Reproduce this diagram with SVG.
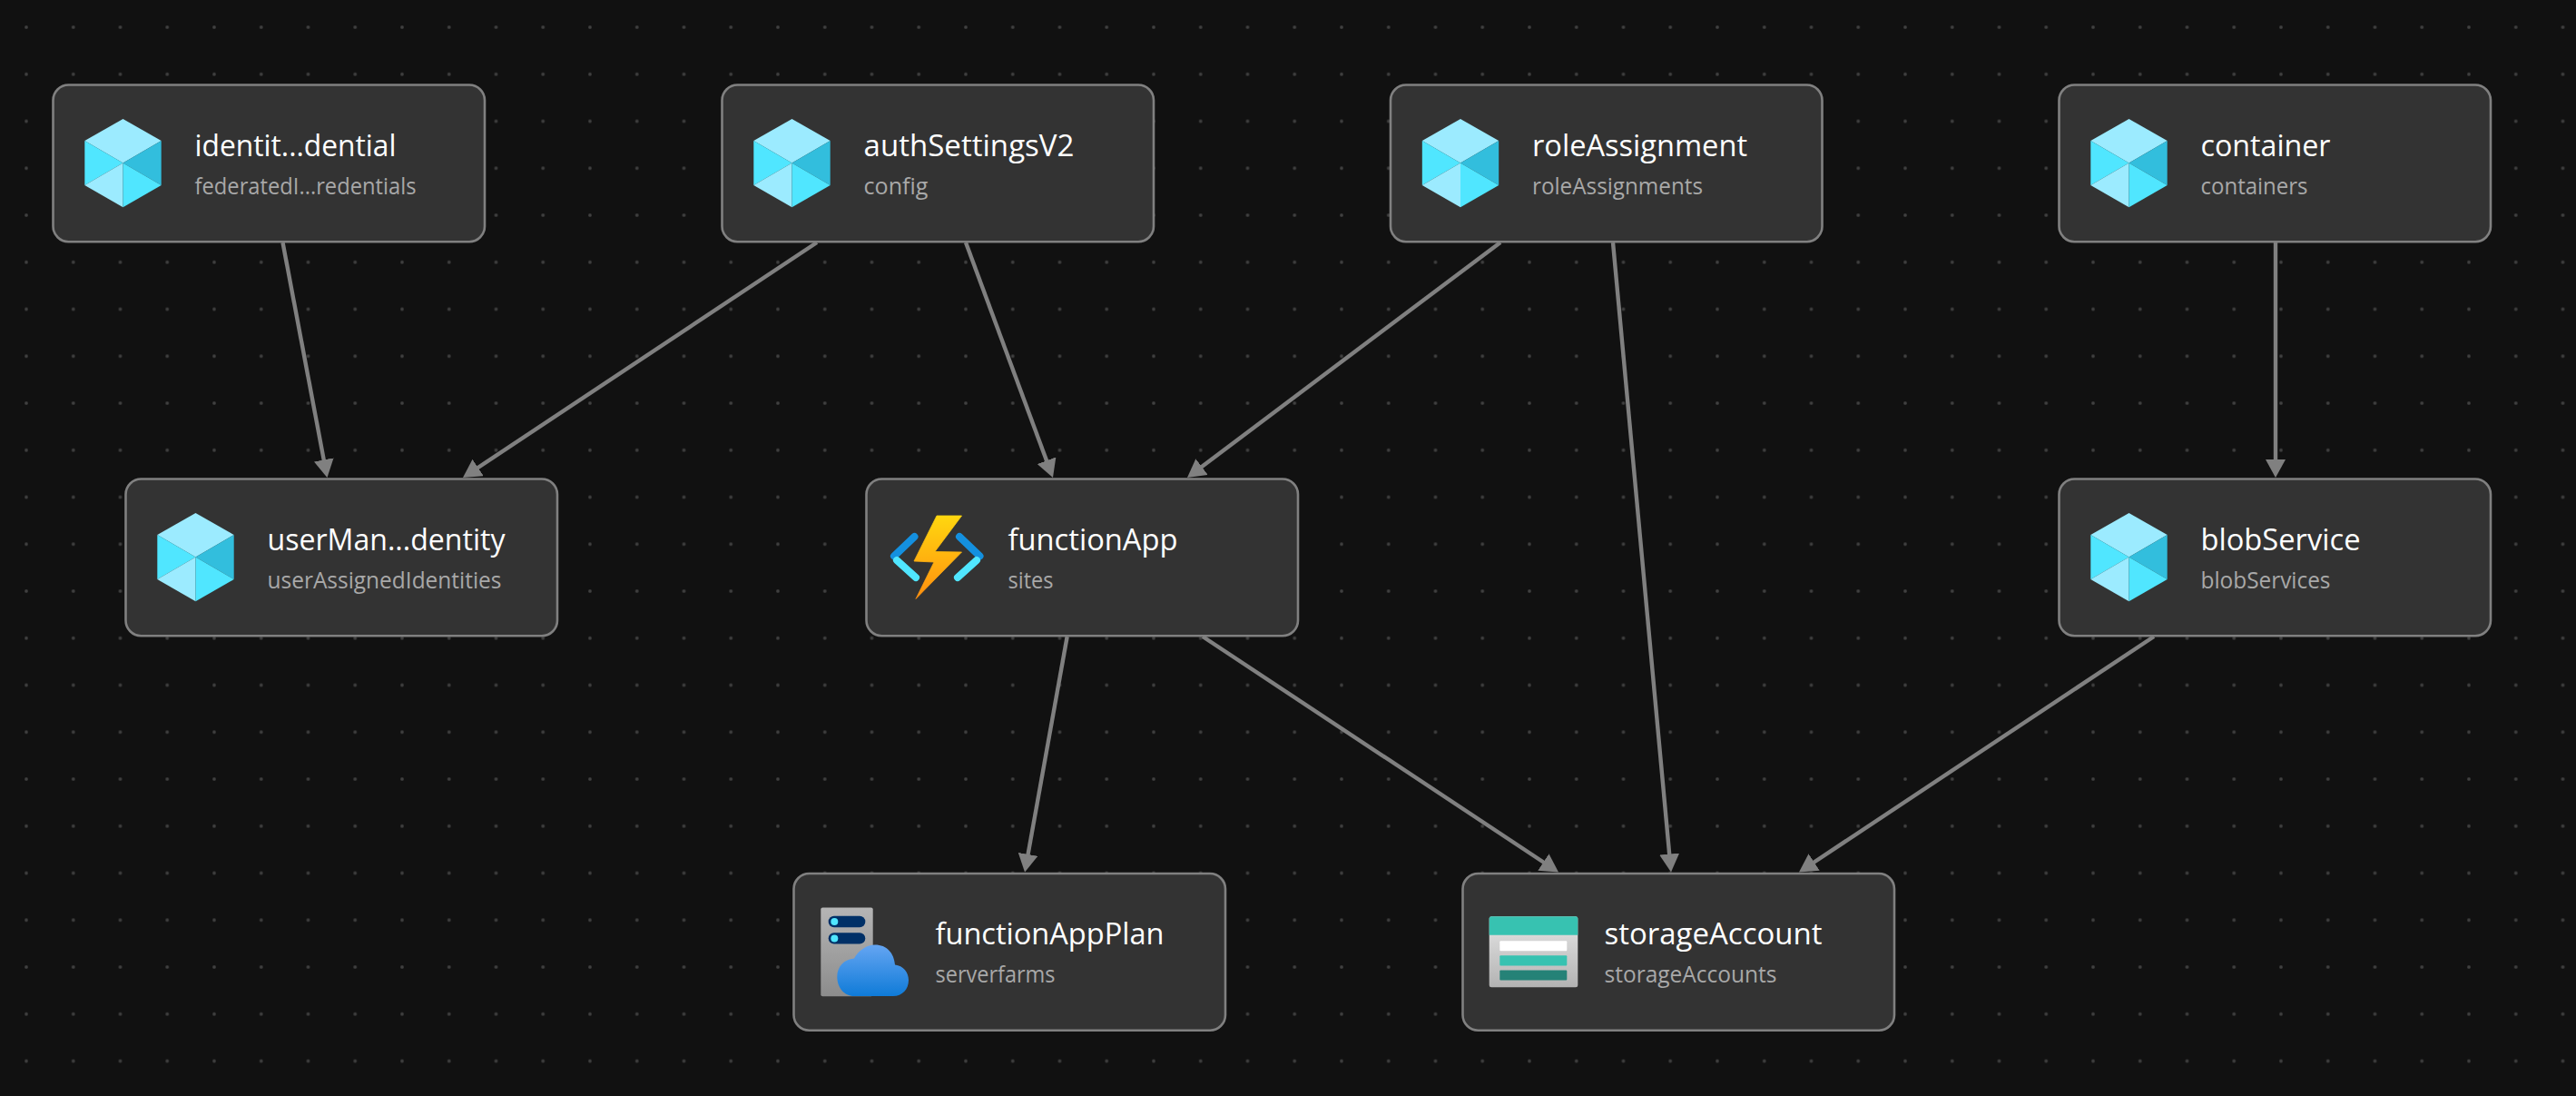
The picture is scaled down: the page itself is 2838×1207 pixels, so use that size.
<svg xmlns="http://www.w3.org/2000/svg" width="2838" height="1207" viewBox="0 0 2838 1207">
<style>
.card{fill:#333333;stroke:#808080;stroke-width:2.6}
.t{font-family:"Open Sans","Noto Sans","Liberation Sans",sans-serif;font-size:33px;fill:#ffffff}
.s{font-family:"Open Sans","Noto Sans","Liberation Sans",sans-serif;font-size:25px;fill:#a8a8a8}
.e{stroke:#808080;stroke-width:4.4;fill:none;marker-end:url(#arrow)}
</style>
<defs>
<pattern id="dots" patternUnits="userSpaceOnUse" x="29" y="30" width="51.75" height="51.75">
<rect x="-1.700" y="-1.700" width="3.400" height="3.400" rx="1.200" fill="#404040"/>
<rect x="50.050" y="-1.700" width="3.400" height="3.400" rx="1.200" fill="#404040"/>
<rect x="-1.700" y="50.050" width="3.400" height="3.400" rx="1.200" fill="#404040"/>
<rect x="50.050" y="50.050" width="3.400" height="3.400" rx="1.200" fill="#404040"/>
</pattern>
<marker id="arrow" markerUnits="userSpaceOnUse" viewBox="0 0 20 22" refX="10" refY="11" markerWidth="20" markerHeight="22" orient="auto">
<path d="M0 0L20 11L0 22Z" fill="#808080"/>
</marker>
<linearGradient id="bolt" x1="0" y1="0" x2="0" y2="1"><stop offset="0" stop-color="#FFD70F"/><stop offset="1" stop-color="#FF8F0F"/></linearGradient>
<linearGradient id="srv" x1="0" y1="0" x2="0" y2="1"><stop offset="0" stop-color="#B5B5B5"/><stop offset="1" stop-color="#8C8C8C"/></linearGradient>
<linearGradient id="cloud" x1="0" y1="0" x2="0" y2="1"><stop offset="0" stop-color="#65A5F2"/><stop offset="1" stop-color="#0F7BD8"/></linearGradient>
<linearGradient id="stor" x1="0" y1="0" x2="0" y2="1"><stop offset="0" stop-color="#E6E6E6"/><stop offset="1" stop-color="#B3B3B3"/></linearGradient>
<g id="cube">
<polygon points="77,37.500 119.200,61.500 77,86 34.800,61.500" fill="#9CEBFF"/>
<polygon points="34.800,61.500 77,86 34.800,110.500" fill="#50E6FF"/>
<polygon points="119.200,61.500 77,86 119.200,110.500" fill="#32BEDD"/>
<polygon points="34.800,110.500 77,86 77,134.800" fill="#9CEBFF"/>
<polygon points="119.200,110.500 77,86 77,134.800" fill="#50E6FF"/>
</g>
</defs>
<rect width="2838" height="1207" fill="#111111"/>
<rect width="2838" height="1207" fill="url(#dots)"/>
<g id="connectors">
<path class="e" d="M311.500 267L358.600 516.200"/>
<path class="e" d="M900 267L518.300 520.500"/>
<path class="e" d="M1064 267L1156.500 516.600"/>
<path class="e" d="M1653 267L1316 520"/>
<path class="e" d="M1777 267L1840.100 950.500"/>
<path class="e" d="M2507 267L2507 516"/>
<path class="e" d="M1175.700 701L1130.800 950.700"/>
<path class="e" d="M1325 701L1708.700 955"/>
<path class="e" d="M2373 701L1990.300 955"/>
</g>
<g id="identityCredential" transform="translate(58.500,93.500)">
<rect class="card" width="475.500" height="172.700" rx="17"/>
<use href="#cube"/>
<text class="t" x="156" y="78" textLength="222" lengthAdjust="spacingAndGlyphs">identit...dential</text>
<text class="s" x="156" y="120" textLength="244" lengthAdjust="spacingAndGlyphs">federatedI...redentials</text>
</g>
<g id="authSettingsV2" transform="translate(795.500,93.500)">
<rect class="card" width="475.500" height="172.700" rx="17"/>
<use href="#cube"/>
<text class="t" x="156" y="78" textLength="232" lengthAdjust="spacingAndGlyphs">authSettingsV2</text>
<text class="s" x="156" y="120" textLength="71" lengthAdjust="spacingAndGlyphs">config</text>
</g>
<g id="roleAssignment" transform="translate(1532,93.500)">
<rect class="card" width="475.500" height="172.700" rx="17"/>
<use href="#cube"/>
<text class="t" x="156" y="78" textLength="237" lengthAdjust="spacingAndGlyphs">roleAssignment</text>
<text class="s" x="156" y="120" textLength="188" lengthAdjust="spacingAndGlyphs">roleAssignments</text>
</g>
<g id="container" transform="translate(2268.500,93.500)">
<rect class="card" width="475.500" height="172.700" rx="17"/>
<use href="#cube"/>
<text class="t" x="156" y="78" textLength="143" lengthAdjust="spacingAndGlyphs">container</text>
<text class="s" x="156" y="120" textLength="118" lengthAdjust="spacingAndGlyphs">containers</text>
</g>
<g id="userManagedIdentity" transform="translate(138.500,527.500)">
<rect class="card" width="475.500" height="172.700" rx="17"/>
<use href="#cube"/>
<text class="t" x="156" y="78" textLength="262" lengthAdjust="spacingAndGlyphs">userMan...dentity</text>
<text class="s" x="156" y="120" textLength="258" lengthAdjust="spacingAndGlyphs">userAssignedIdentities</text>
</g>
<g id="functionApp" transform="translate(954.500,527.500)">
<rect class="card" width="475.500" height="172.700" rx="17"/>
<g transform="translate(-954.500,-527.500)">
<path d="M1007.500 591L985 612.500" stroke="#1490DF" stroke-width="8" stroke-linecap="round" fill="none"/>
<path d="M988 617L1009 636" stroke="#50E6FF" stroke-width="8" stroke-linecap="round" fill="none"/>
<path d="M1057 591L1079.500 612.500" stroke="#1490DF" stroke-width="8" stroke-linecap="round" fill="none"/>
<path d="M1076 617L1055 636" stroke="#50E6FF" stroke-width="8" stroke-linecap="round" fill="none"/>
<polygon points="1032,568 1059.500,568 1030,607.500 1059.500,608 1009,659.500 1029,619 1007,618" fill="url(#bolt)" stroke="url(#bolt)" stroke-width="0.800" stroke-linejoin="round"/>
</g>
<text class="t" x="156" y="78" textLength="187" lengthAdjust="spacingAndGlyphs">functionApp</text>
<text class="s" x="156" y="120" textLength="50" lengthAdjust="spacingAndGlyphs">sites</text>
</g>
<g id="blobService" transform="translate(2268.500,527.500)">
<rect class="card" width="475.500" height="172.700" rx="17"/>
<use href="#cube"/>
<text class="t" x="156" y="78" textLength="176" lengthAdjust="spacingAndGlyphs">blobService</text>
<text class="s" x="156" y="120" textLength="143" lengthAdjust="spacingAndGlyphs">blobServices</text>
</g>
<g id="functionAppPlan" transform="translate(874.500,962)">
<rect class="card" width="475.500" height="172.700" rx="17"/>
<g transform="translate(-874.500,-962)">
<rect x="904.300" y="999.500" width="57.400" height="97.700" rx="2" fill="url(#srv)"/>
<rect x="912.700" y="1008.800" width="40.600" height="12.400" rx="6.200" fill="#003067"/>
<circle cx="919.300" cy="1015" r="4" fill="#50E6FF"/>
<rect x="912.700" y="1027.200" width="40.600" height="12.400" rx="6.200" fill="#003067"/>
<circle cx="919.300" cy="1033.500" r="4" fill="#50E6FF"/>
<path d="M941 1097C930 1097 922.300 1087.500 922.300 1075.500C922.300 1064.500 930 1056.500 941 1055.500C946 1046.500 955 1040.500 964 1040.500C977 1040.500 985 1049.500 986 1062.500C995 1063.500 1001 1070.500 1001 1079.500C1001 1089.500 994 1097 984 1097Z" fill="url(#cloud)"/>
</g>
<text class="t" x="156" y="78" textLength="252" lengthAdjust="spacingAndGlyphs">functionAppPlan</text>
<text class="s" x="156" y="120" textLength="132" lengthAdjust="spacingAndGlyphs">serverfarms</text>
</g>
<g id="storageAccount" transform="translate(1611.500,962)">
<rect class="card" width="475.500" height="172.700" rx="17"/>
<g transform="translate(-1611.500,-962)">
<rect x="1640.700" y="1009.200" width="97.600" height="78" rx="2.500" fill="url(#stor)"/>
<path d="M1640.700 1029.800V1011.700a2.500 2.500 0 0 1 2.500-2.500h92.600a2.500 2.500 0 0 1 2.500 2.500V1029.800Z" fill="#37C2B1"/>
<rect x="1652.300" y="1036.200" width="74" height="11" rx="1" fill="#ffffff"/>
<rect x="1652.300" y="1052.200" width="74" height="11.300" rx="1" fill="#37C2B1"/>
<rect x="1652.300" y="1068.500" width="74" height="11" rx="1" fill="#258277"/>
</g>
<text class="t" x="156" y="78" textLength="240" lengthAdjust="spacingAndGlyphs">storageAccount</text>
<text class="s" x="156" y="120" textLength="190" lengthAdjust="spacingAndGlyphs">storageAccounts</text>
</g>
</svg>
